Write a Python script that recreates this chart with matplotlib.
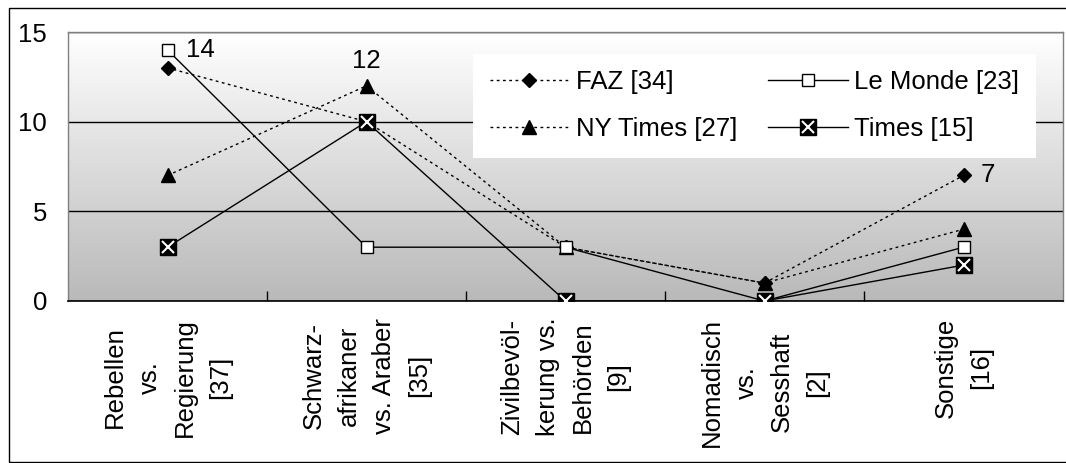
import numpy as np
import matplotlib.pyplot as plt
from matplotlib.colors import LinearSegmentedColormap
from matplotlib.legend_handler import HandlerTuple
from matplotlib.lines import Line2D
from matplotlib.patches import Rectangle

# Data
categories = ["Rebellen\nvs.\nRegierung\n[37]",
              "Schwarz-\nafrikaner\nvs. Araber\n[35]",
              "Zivilbevöl-\nkerung vs.\nBehörden\n[9]",
              "Nomadisch\nvs.\nSesshaft\n[2]",
              "Sonstige\n[16]"]
faz = [13, 10, 3, 1, 7]
le_monde = [14, 3, 3, 0, 3]
ny_times = [7, 12, 3, 1, 4]
times = [3, 10, 0, 0, 2]
series_names = ["FAZ [34]", "Le Monde [23]", "NY Times [27]", "Times [15]"]
yticks = [0, 5, 10, 15]

plt.rcParams['font.family'] = ['Liberation Sans', 'DejaVu Sans']
FS = 18.5

fig = plt.figure(figsize=(10.66, 4.63), dpi=100)
ax = fig.add_axes([68 / 1066, 1 - 301 / 463, 995 / 1066, 269 / 463])

x = np.arange(len(categories))

# gradient plot area
cmap = LinearSegmentedColormap.from_list("bg", ["#ffffff", "#b9b9b9"])
ax.imshow(np.linspace(0, 1, 256).reshape(-1, 1), extent=[-0.5, len(x) - 0.5, 0, 15],
          aspect='auto', cmap=cmap, origin='upper', zorder=0)

ax.set_xlim(-0.5, len(x) - 0.5)
ax.set_ylim(0, 15)
ax.set_yticks(yticks)
ax.yaxis.grid(True, color='black', lw=1)
ax.set_axisbelow('line')

dot = (0, (2, 2.5))
l_faz, = ax.plot(x, faz, color='black', lw=1, ls=dot, marker='D', ms=7, zorder=3)
l_nyt, = ax.plot(x, ny_times, color='black', lw=1, ls=dot, marker='^', ms=10, zorder=3)
l_lm, = ax.plot(x, le_monde, color='black', lw=1, marker='s', ms=8,
                mfc='white', mec='black', mew=1, zorder=4)
l_t, = ax.plot(x, times, color='black', lw=1, marker='s', ms=12, mfc='black', mec='black', zorder=4)
l_tx, = ax.plot(x, times, ls='none', marker='x', ms=9, mew=1.5, color='white', zorder=5)

# data labels
ax.annotate(str(le_monde[0]), (x[0], le_monde[0]), xytext=(13, 0), textcoords='offset points',
            ha='left', va='center', fontsize=FS)
ax.annotate(str(ny_times[1]), (x[1], ny_times[1]), xytext=(0, 9), textcoords='offset points',
            ha='center', va='bottom', fontsize=FS)
ax.annotate(str(faz[4]), (x[4], faz[4]), xytext=(12, 0), textcoords='offset points',
            ha='left', va='center', fontsize=FS)

# axes styling
for s in ['left', 'top', 'right']:
    ax.spines[s].set_color('#808080')
    ax.spines[s].set_linewidth(1)
ax.spines['bottom'].set_color('black')
ax.spines['bottom'].set_linewidth(1.2)

ax.tick_params(axis='y', length=0, pad=15, labelsize=FS)
ax.set_xticks(x)
ax.set_xticklabels(categories, rotation=90, ha='center', va='top',
                   multialignment='center', fontsize=FS, linespacing=1.6)
ax.set_xticks(x[:-1] + 0.5, minor=True)
ax.tick_params(axis='x', which='major', length=0, pad=12)
ax.tick_params(axis='x', which='minor', direction='in', length=7, width=1, color='black')

# legend
h_times = (Line2D([], [], color='black', lw=1, marker='s', ms=12, mfc='black'),
           Line2D([], [], ls='none', marker='x', ms=9, mew=1.5, color='white'))
leg = ax.legend([l_faz, l_nyt, l_lm, h_times],
                [series_names[0], series_names[2], series_names[1], series_names[3]],
                handler_map={tuple: HandlerTuple(ndivide=1, pad=0)},
                ncol=2, loc='upper left', bbox_to_anchor=(0.407, 0.92),
                borderaxespad=0, fontsize=FS, frameon=True, fancybox=False,
                framealpha=1, edgecolor='none', facecolor='white', numpoints=1,
                handlelength=3.1, handletextpad=0.25, columnspacing=1.2,
                labelspacing=0.9, borderpad=0.65)
leg.set_zorder(6)

# outer border
fig.patches.append(Rectangle((9 / 1066, 1.5 / 463), 1.2, (461 - 7) / 463,
                             transform=fig.transFigure, fill=False,
                             edgecolor='black', lw=1, zorder=10))

fig.savefig("out.png", dpi=100)
